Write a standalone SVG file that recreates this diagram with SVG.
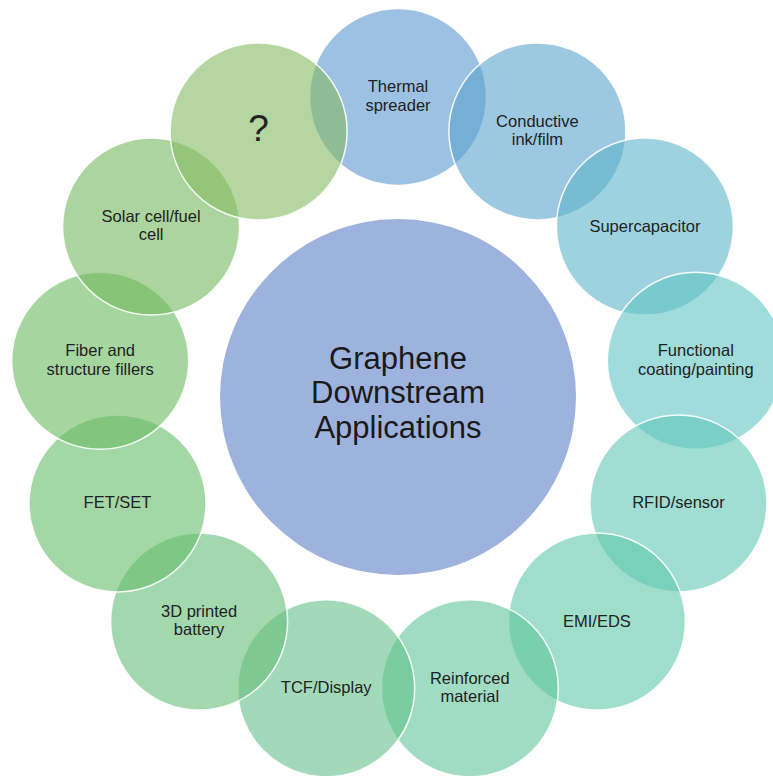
<svg xmlns="http://www.w3.org/2000/svg" width="773" height="776" viewBox="0 0 773 776">
<style>
.o{fill-opacity:0.6;stroke:#ffffff;stroke-opacity:0.9;stroke-width:1.5}
.t{font-family:"Liberation Sans",Arial,sans-serif;font-size:16.5px;fill:#222;text-anchor:middle}
.c{font-family:"Liberation Sans",Arial,sans-serif;font-size:31px;fill:#1a1a1a;text-anchor:middle}
</style>
<rect width="773" height="776" fill="#ffffff"/>
<g id="center">
<circle cx="398" cy="397" r="178" fill="#9DB3DD"/>
<text class="c" x="398" y="368.5">Graphene</text>
<text class="c" x="398" y="403.3">Downstream</text>
<text class="c" x="398" y="438.1">Applications</text>
</g>
<g id="connectors"></g>
<g id="n0"><circle class="o" cx="398" cy="97" r="88.5" fill="#5C98D0"/>
<text class="t" x="398" y="92.3">Thermal</text><text class="t" x="398" y="110.8">spreader</text></g>
<g id="n1"><circle class="o" cx="537.4" cy="131.4" r="88.5" fill="#5CA3CD"/>
<text class="t" x="537.4" y="126.7">Conductive</text><text class="t" x="537.4" y="145.2">ink/film</text></g>
<g id="n2"><circle class="o" cx="644.9" cy="226.6" r="88.5" fill="#5DB4C8"/>
<text class="t" x="644.9" y="231.6">Supercapacitor</text></g>
<g id="n3"><circle class="o" cx="695.8" cy="360.8" r="88.5" fill="#61C5C5"/>
<text class="t" x="695.8" y="356">Functional</text><text class="t" x="695.8" y="374.5">coating/painting</text></g>
<g id="n4"><circle class="o" cx="678.5" cy="503.4" r="88.5" fill="#61C8B7"/>
<text class="t" x="678.5" y="508.4">RFID/sensor</text></g>
<g id="n5"><circle class="o" cx="596.9" cy="621.6" r="88.5" fill="#61C8AA"/>
<text class="t" x="596.9" y="626.6">EMI/EDS</text></g>
<g id="n6"><circle class="o" cx="469.8" cy="688.3" r="88.5" fill="#61C59B"/>
<text class="t" x="469.8" y="683.6">Reinforced</text><text class="t" x="469.8" y="702.1">material</text></g>
<g id="n7"><circle class="o" cx="326.2" cy="688.3" r="88.5" fill="#64C18A"/>
<text class="t" x="326.2" y="693.3">TCF/Display</text></g>
<g id="n8"><circle class="o" cx="199.1" cy="621.6" r="88.5" fill="#66BE7A"/>
<text class="t" x="199.1" y="616.9">3D printed</text><text class="t" x="199.1" y="635.4">battery</text></g>
<g id="n9"><circle class="o" cx="117.5" cy="503.4" r="88.5" fill="#66BC69"/>
<text class="t" x="117.5" y="508.4">FET/SET</text></g>
<g id="n10"><circle class="o" cx="100.2" cy="360.8" r="88.5" fill="#6BBB61"/>
<text class="t" x="100.2" y="356">Fiber and</text><text class="t" x="100.2" y="374.5">structure fillers</text></g>
<g id="n11"><circle class="o" cx="151.1" cy="226.6" r="88.5" fill="#75B75D"/>
<text class="t" x="151.1" y="221.9">Solar cell/fuel</text><text class="t" x="151.1" y="240.4">cell</text></g>
<g id="n12"><circle class="o" cx="258.6" cy="131.4" r="88.5" fill="#84BB61"/>
<text class="t" x="258.6" y="141" style="font-size:37px">?</text></g>
</svg>
